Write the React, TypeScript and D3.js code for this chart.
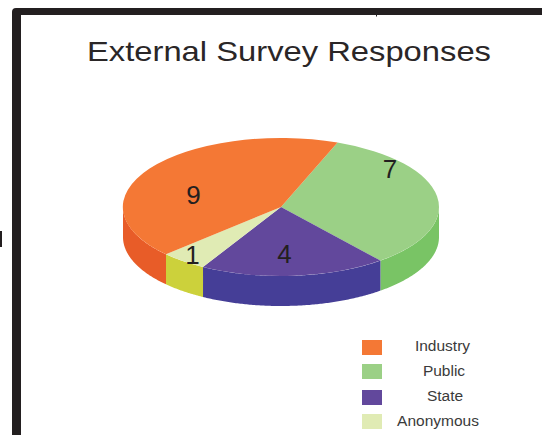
import React from "react";
import * as d3 from "d3";

const categories = ["Public", "State", "Anonymous", "Industry"];
const responses = [7, 4, 1, 9];
const legendOrder = ["Industry", "Public", "State", "Anonymous"];

const topColors: Record<string, string> = {
  Industry: "#f47835",
  Public: "#9bd086",
  State: "#62489c",
  Anonymous: "#e0ebb4",
};
const sideColors: Record<string, string> = {
  Industry: "#e85c28",
  Public: "#79c465",
  State: "#453e97",
  Anonymous: "#ccd13b",
};
// Value label anchors per slice, in page pixels.
const labelAnchors: Record<string, [number, number]> = {
  Industry: [193.5, 203.5],
  Public: [390, 178],
  State: [284.5, 262.5],
  Anonymous: [192.5, 264],
};
const legendRows = [
  { y: 340, textX: 442.5, textY: 351 },
  { y: 364, textX: 444, textY: 376 },
  { y: 390, textX: 445, textY: 401 },
  { y: 414, textX: 438, textY: 426 },
];

const CX = 281;
const CY = 207;
const RX = 158;
const RY = 69;
const DEPTH = 30;
const START = (21 * Math.PI) / 180;

const pie = d3
  .pie<number>()
  .sort(null)
  .startAngle(START)
  .endAngle(START + 2 * Math.PI);
const slices = pie(responses);

// Unit-circle arc, squashed to an ellipse with a transform on the path.
const topArc = d3.arc<d3.PieArcDatum<number>>().innerRadius(0).outerRadius(1);

const ex = (a: number) => CX + RX * Math.sin(a);
const ey = (a: number) => CY - RY * Math.cos(a);

// Outline of the rim below one slice, limited to the front half of the ellipse.
function wallPath(a0: number, a1: number): string | null {
  const from = Math.max(a0, Math.PI / 2);
  const to = Math.min(a1, (3 * Math.PI) / 2);
  if (to <= from) return null;
  const angles = d3.range(from, to, 0.01).concat(to);
  const line = d3.line<[number, number]>();
  const upper = angles.map((a): [number, number] => [ex(a), ey(a)]);
  const lower = angles
    .slice()
    .reverse()
    .map((a): [number, number] => [ex(a), ey(a) + DEPTH]);
  return line(upper.concat(lower)) + "Z";
}

export default function App() {
  return (
    <svg
      width={542}
      height={435}
      viewBox="0 0 542 435"
      style={{ position: "fixed", left: 0, top: 0, background: "#fff" }}
      fontFamily="'Liberation Sans', Arial, sans-serif"
    >
      {/* Surrounding frame */}
      <path d="M12 435V12Q12 8 16 8H542V15H21V435Z" fill="#231f20" />
      <rect x={376} y={15} width={1} height={1.5} fill="#231f20" />
      <rect x={0} y={231} width={2} height={16} fill="#231f20" />

      <text
        x={289}
        y={61}
        textAnchor="middle"
        fontSize={28}
        fill="#2a2627"
        textLength={404}
        lengthAdjust="spacingAndGlyphs"
      >
        External Survey Responses
      </text>

      {/* Rim */}
      {slices.map((s, i) => {
        const d = wallPath(s.startAngle, s.endAngle);
        return d ? <path key={categories[i]} d={d} fill={sideColors[categories[i]]} /> : null;
      })}

      {/* Top face */}
      <g transform={`translate(${CX},${CY}) scale(${RX},${RY})`}>
        {slices.map((s, i) => (
          <path key={categories[i]} d={topArc(s) ?? ""} fill={topColors[categories[i]]} />
        ))}
      </g>

      {/* Slice values */}
      {slices.map((s, i) => {
        const [x, y] = labelAnchors[categories[i]];
        return (
          <text key={categories[i]} x={x} y={y} textAnchor="middle" fontSize={26} fill="#231f20">
            {s.value}
          </text>
        );
      })}

      {/* Legend */}
      {legendOrder.map((name, i) => (
        <g key={name}>
          <rect x={362} y={legendRows[i].y} width={20} height={15} fill={topColors[name]} />
          <text
            x={legendRows[i].textX}
            y={legendRows[i].textY}
            textAnchor="middle"
            fontSize={15.5}
            fill="#3a3a3a"
          >
            {name}
          </text>
        </g>
      ))}
    </svg>
  );
}
